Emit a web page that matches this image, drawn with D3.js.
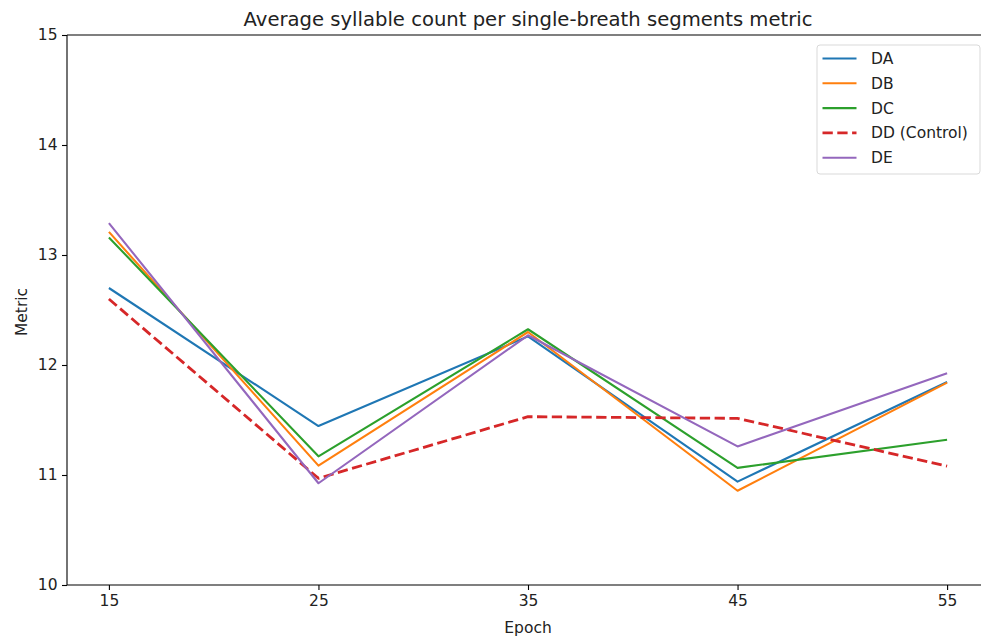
<!DOCTYPE html>
<html>
<head>
<meta charset="utf-8">
<script src="https://cdn.jsdelivr.net/npm/d3@7"></script>
<style>
  html, body { margin: 0; padding: 0; background: #fff; }
  svg { display: block; font-family: "DejaVu Sans", sans-serif; }
</style>
</head>
<body>
<svg id="chart" width="981" height="641"></svg>
<script>
// Epochs on the x axis
const epochs = [15, 25, 35, 45, 55];

// Average syllable count per single-breath segment, one array per group
const seriesDA = [12.70, 11.445, 12.26, 10.94, 11.845];
const seriesDB = [13.21, 11.085, 12.30, 10.857, 11.84];
const seriesDC = [13.16, 11.17, 12.325, 11.065, 11.32];
const seriesDD = [12.60, 10.97, 11.53, 11.515, 11.08];
const seriesDE = [13.29, 10.925, 12.27, 11.26, 11.925];

const seriesNames = ["DA", "DB", "DC", "DD (Control)", "DE"];
const seriesColors = ["#1f77b4", "#ff7f0e", "#2ca02c", "#d62728", "#9467bd"];
const seriesDashed = [false, false, false, true, false];

const yTicks = [10, 11, 12, 13, 14, 15];

const series = [seriesDA, seriesDB, seriesDC, seriesDD, seriesDE].map((vals, i) => ({
  name: seriesNames[i],
  color: seriesColors[i],
  dashed: seriesDashed[i],
  values: vals.map((v, j) => ({ x: epochs[j], y: v }))
}));

const svg = d3.select("#chart");
const W = 981, H = 641;
const margin = { left: 67, right: -8, top: 35, bottom: 56 };
const plotW = W - margin.left - margin.right;
const plotH = H - margin.top - margin.bottom;

const x = d3.scaleLinear().domain([13, 57]).range([margin.left, margin.left + plotW]);
const y = d3.scaleLinear().domain([10, 15]).range([margin.top + plotH, margin.top]);

const axisColor = "#000";
const textColor = "#222";
const labelFont = 15.5;

// Lines
const line = d3.line().x(d => x(d.x)).y(d => y(d.y));
const g = svg.append("g");
series.forEach(s => {
  g.append("path")
    .datum(s.values)
    .attr("fill", "none")
    .attr("stroke", s.color)
    .attr("stroke-width", s.dashed ? 2.8 : 2.1)
    .attr("stroke-dasharray", s.dashed ? "10.3,4.5" : null)
    .attr("stroke-linejoin", "round")
    .attr("stroke-linecap", "butt")
    .attr("d", line);
});

// Axes
const xAxis = d3.axisBottom(x).tickValues(epochs).tickSize(5).tickPadding(4.5).tickFormat(d3.format("d"));
const yAxis = d3.axisLeft(y).tickValues(yTicks).tickSize(5).tickPadding(4.5).tickFormat(d3.format("d"));

const gx = svg.append("g").attr("transform", `translate(0,${margin.top + plotH})`).call(xAxis);
const gy = svg.append("g").attr("transform", `translate(${margin.left},0)`).call(yAxis);
[gx, gy].forEach(a => {
  a.select(".domain").remove();
  a.selectAll("line").attr("stroke", axisColor).attr("stroke-width", 1.1);
  a.selectAll("text").attr("fill", textColor).style("font-size", labelFont + "px").style("font-family", "DejaVu Sans, sans-serif");
});

// Spines (left, bottom, top)
const spine = svg.append("g").attr("stroke", axisColor).attr("stroke-width", 1.1).attr("fill", "none");
spine.append("line").attr("x1", margin.left).attr("x2", margin.left).attr("y1", margin.top).attr("y2", margin.top + plotH);
spine.append("line").attr("x1", margin.left).attr("x2", W).attr("y1", margin.top + plotH).attr("y2", margin.top + plotH);
spine.append("line").attr("x1", margin.left).attr("x2", W).attr("y1", margin.top).attr("y2", margin.top);

// Title and axis labels
svg.append("text")
  .attr("x", (margin.left + margin.left + plotW) / 2)
  .attr("y", 25.5)
  .attr("text-anchor", "middle")
  .attr("fill", textColor)
  .style("font-size", "19.6px")
  .text("Average syllable count per single-breath segments metric");

svg.append("text")
  .attr("x", (margin.left + margin.left + plotW) / 2)
  .attr("y", 632.5)
  .attr("text-anchor", "middle")
  .attr("fill", textColor)
  .style("font-size", labelFont + "px")
  .text("Epoch");

svg.append("text")
  .attr("transform", `translate(26.5,312) rotate(-90)`)
  .attr("text-anchor", "middle")
  .attr("fill", textColor)
  .style("font-size", labelFont + "px")
  .text("Metric");

// Legend
const lg = svg.append("g").attr("transform", "translate(817,45)");
lg.append("rect")
  .attr("x", 0).attr("y", 0).attr("width", 163).attr("height", 129)
  .attr("rx", 3).attr("fill", "#fff").attr("fill-opacity", 0.8)
  .attr("stroke", "#d9d9d9").attr("stroke-width", 1);
series.forEach((s, i) => {
  const ry = 13.5 + i * 24.8;
  lg.append("line")
    .attr("x1", 5.5).attr("x2", 39.5).attr("y1", ry).attr("y2", ry)
    .attr("stroke", s.color)
    .attr("stroke-width", s.dashed ? 2.8 : 2.1)
    .attr("stroke-dasharray", s.dashed ? "10.3,4.5" : null);
  lg.append("text")
    .attr("x", 54).attr("y", ry).attr("dy", "0.36em")
    .attr("fill", textColor)
    .style("font-size", labelFont + "px")
    .text(s.name);
});
</script>
</body>
</html>
